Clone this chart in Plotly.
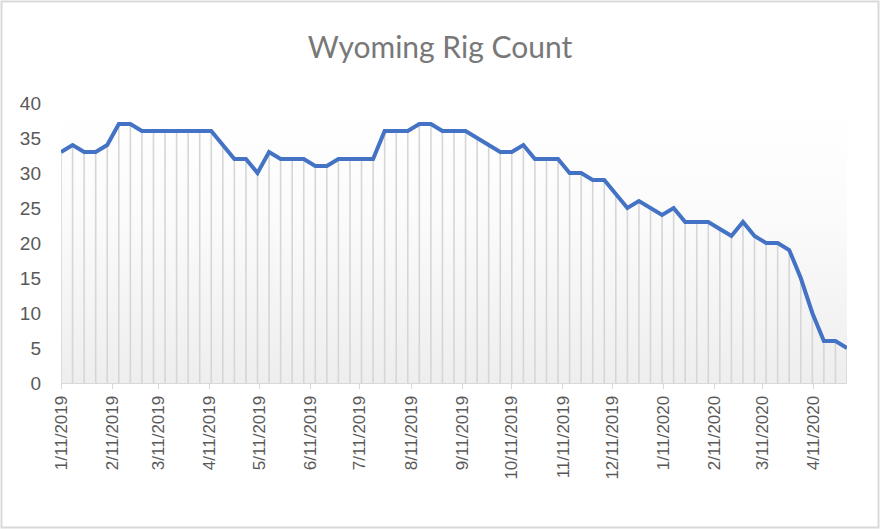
import plotly.graph_objects as go
import pandas as pd

title_text = "Wyoming Rig Count"
start_date = "2019-01-11"
n_weeks = 69
rig_count = [33, 34, 33, 33, 34, 37, 37, 36, 36, 36, 36, 36, 36, 36, 34, 32, 32, 30, 33, 32,
             32, 32, 31, 31, 32, 32, 32, 32, 36, 36, 36, 37, 37, 36, 36, 36, 35, 34, 33, 33,
             34, 32, 32, 32, 30, 30, 29, 29, 27, 25, 26, 25, 24, 25, 23, 23, 23, 22, 21, 23,
             21, 20, 20, 19, 15, 10, 6, 6, 5]
dates = pd.date_range(start=start_date, periods=n_weeks, freq="7D")

tick_dates = ["2019-01-11", "2019-02-11", "2019-03-11", "2019-04-11", "2019-05-11",
              "2019-06-11", "2019-07-11", "2019-08-11", "2019-09-11", "2019-10-11",
              "2019-11-11", "2019-12-11", "2020-01-11", "2020-02-11", "2020-03-11",
              "2020-04-11"]
tick_labels = ["1/11/2019", "2/11/2019", "3/11/2019", "4/11/2019", "5/11/2019",
               "6/11/2019", "7/11/2019", "8/11/2019", "9/11/2019", "10/11/2019",
               "11/11/2019", "12/11/2019", "1/11/2020", "2/11/2020", "3/11/2020",
               "4/11/2020"]
y_ticks = [0, 5, 10, 15, 20, 25, 30, 35, 40]

W, H = 880, 529
ml, mr, mt, mb = 61, 33, 103, 146
x0, x1 = dates[0], dates[-1]
y_lo, y_hi = 0, 40

fig = go.Figure()

# plot-area gradient background
fig.add_trace(go.Scatter(
    x=[x0, x1, x1, x0, x0], y=[y_lo, y_lo, y_hi, y_hi, y_lo],
    mode="lines", line=dict(width=0), fill="toself",
    fillgradient=dict(type="vertical", colorscale=[[0, "#eeeeee"], [0.6, "#fbfbfb"], [1, "#ffffff"]]),
    hoverinfo="skip", showlegend=False))

# drop lines
fig.add_trace(go.Scatter(
    x=dates, y=rig_count, mode="markers", marker=dict(size=0.1, opacity=0),
    error_y=dict(type="data", symmetric=False, array=[0] * len(rig_count),
                 arrayminus=rig_count, color="#d6d6d6", thickness=1.6, width=0),
    hoverinfo="skip", showlegend=False))

# main line
fig.add_trace(go.Scatter(
    x=dates, y=rig_count, mode="lines",
    line=dict(color="#4472C4", width=4), showlegend=False))

fig.update_layout(
    width=W, height=H,
    margin=dict(l=ml, r=mr, t=mt, b=mb),
    paper_bgcolor="white", plot_bgcolor="rgba(0,0,0,0)",
    title=dict(text=title_text, x=0.5, xanchor="center", y=1 - 47 / H, yanchor="middle",
               font=dict(family="Lato", size=30, color="#787878")),
    font=dict(family="Liberation Sans", color="#595959"),
)
fig.update_xaxes(
    range=[x0, x1], tickmode="array", tickvals=tick_dates, ticktext=tick_labels,
    tickangle=-90, ticks="outside", ticklen=5, tickcolor="#d9d9d9", tickwidth=1,
    showline=True, linecolor="#d9d9d9", linewidth=1, showgrid=False, zeroline=False,
    tickfont=dict(size=17, color="#595959"))
fig.update_yaxes(
    range=[y_lo, y_hi], tickmode="array", tickvals=y_ticks, showgrid=False, zeroline=False,
    showline=False, ticks="", ticklabelstandoff=19,
    tickfont=dict(size=19, color="#595959"))

# chart border
pw, ph = W - ml - mr, H - mt - mb
fig.add_shape(type="rect", xref="paper", yref="paper",
              x0=(-ml + 1.5) / pw, x1=1 + (mr - 1.5) / pw,
              y0=(-mb + 1.5) / ph, y1=1 + (mt - 1.5) / ph,
              line=dict(color="#d9d9d9", width=2), fillcolor="rgba(0,0,0,0)", layer="above")

fig.write_html("out.html", config={"displayModeBar": False},
               post_script="document.body.style.margin='0';document.body.style.overflow='hidden';")
